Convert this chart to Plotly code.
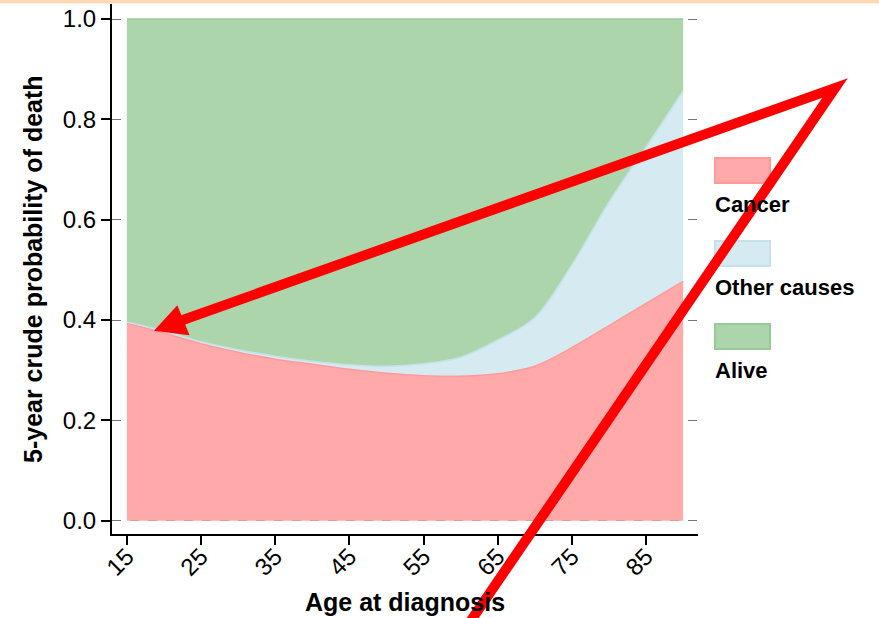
import plotly.graph_objects as go

# age at diagnosis and 5-year crude probabilities
ages = [15, 20, 25, 30, 35, 40, 45, 50, 55, 60, 65, 70, 75, 80, 85, 90]
cancer = [0.394, 0.374, 0.353, 0.336, 0.322, 0.312, 0.302, 0.294,
          0.289, 0.288, 0.293, 0.308, 0.345, 0.389, 0.433, 0.477]
other_causes = [0.002, 0.004, 0.004, 0.005, 0.006, 0.006, 0.009, 0.014,
                0.024, 0.038, 0.067, 0.097, 0.165, 0.246, 0.312, 0.379]
alive = [0.604, 0.622, 0.643, 0.659, 0.672, 0.682, 0.689, 0.692,
         0.687, 0.674, 0.640, 0.595, 0.490, 0.365, 0.255, 0.144]

x_ticks = [15, 25, 35, 45, 55, 65, 75, 85]
y_ticks = [0.0, 0.2, 0.4, 0.6, 0.8, 1.0]

groups = [
    ("Cancer", cancer, "#FFA9AA", "#FF9A9B"),
    ("Other causes", other_causes, "#D6EAF1", "#C5E1EA"),
    ("Alive", alive, "#ADD5AC", "#98CA97"),
]

W, H = 879, 618
L, R, T, B = 112, 181, 4, 84
pw, ph = W - L - R, H - T - B


def px(x):
    return (x - L) / pw


def py(y):
    return (H - B - y) / ph


fig = go.Figure()
for name, vals, fill, edge in groups:
    fig.add_trace(go.Scatter(x=ages, y=vals, name=name, stackgroup="one",
                             mode="lines", fillcolor=fill,
                             line=dict(color=edge, width=1.5, shape="spline", smoothing=1),
                             showlegend=False, hoverinfo="skip"))

font = "Liberation Sans, Arial, sans-serif"
shapes = []
annotations = []

# legend: swatch with label underneath
leg_y = [158, 241, 324]
for (name, vals, fill, edge), y0 in zip(groups, leg_y):
    shapes.append(dict(type="rect", xref="paper", yref="paper",
                       x0=px(715), x1=px(770), y0=py(y0), y1=py(y0 + 25),
                       fillcolor=fill, line=dict(color=edge, width=2)))
    annotations.append(dict(xref="paper", yref="paper", x=px(713), y=py(y0 + 46),
                            text="<b>%s</b>" % name, showarrow=False,
                            xanchor="left", yanchor="middle",
                            font=dict(family=font, size=22, color="black")))

# axis titles
annotations.append(dict(xref="paper", yref="paper", x=px(405), y=py(602),
                        text="<b>Age at diagnosis</b>", showarrow=False,
                        xanchor="center", yanchor="middle",
                        font=dict(family=font, size=25, color="black")))
annotations.append(dict(xref="paper", yref="paper", x=px(33), y=py(269),
                        text="<b>5-year crude probability of death</b>", showarrow=False,
                        textangle=-90, xanchor="center", yanchor="middle",
                        font=dict(family=font, size=25, color="black")))

# orange strip at the very top
shapes.append(dict(type="rect", xref="paper", yref="paper",
                   x0=px(0), x1=px(W), y0=py(3.5), y1=py(-1),
                   fillcolor="#FCD9B4", line=dict(width=0)))

# red overlay: arrow + second stroke
def path(points):
    return "M " + " L ".join("%f,%f" % (px(a), py(b)) for a, b in points)

shapes.append(dict(type="path", xref="paper", yref="paper",
                   path=path([(180, 321), (835, 88), (470, 622)]),
                   line=dict(color="#FF0000", width=10)))
shapes.append(dict(type="path", xref="paper", yref="paper",
                   path=path([(156, 330), (188, 334), (177, 307)]) + " Z",
                   fillcolor="#FF0000", line=dict(color="#FF0000", width=2)))

fig.update_layout(
    width=W, height=H,
    margin=dict(l=L, r=R, t=T, b=B, autoexpand=False),
    paper_bgcolor="white", plot_bgcolor="white",
    font=dict(family=font, size=22, color="black"),
    shapes=shapes, annotations=annotations,
    xaxis=dict(range=[13, 92], tickvals=x_ticks, tickangle=-45, automargin=False,
               ticks="outside", ticklen=9, tickwidth=1.5, tickcolor="black",
               ticklabelstandoff=-12,
               showline=True, linecolor="black", linewidth=2,
               showgrid=False, zeroline=False,
               tickfont=dict(size=24)),
    yaxis=dict(range=[-0.0265, 1.03], tickvals=y_ticks, tickformat=".1f", automargin=False,
               ticks="outside", ticklen=9, tickwidth=1.5, tickcolor="black",
               showline=True, linecolor="black", linewidth=2,
               showgrid=True, gridcolor="#777777", gridwidth=1, griddash="dash",
               zeroline=False, tickfont=dict(size=24)),
)

fig.write_html("out.html", config={"displayModeBar": False},
               post_script="document.body.style.margin='0';")
